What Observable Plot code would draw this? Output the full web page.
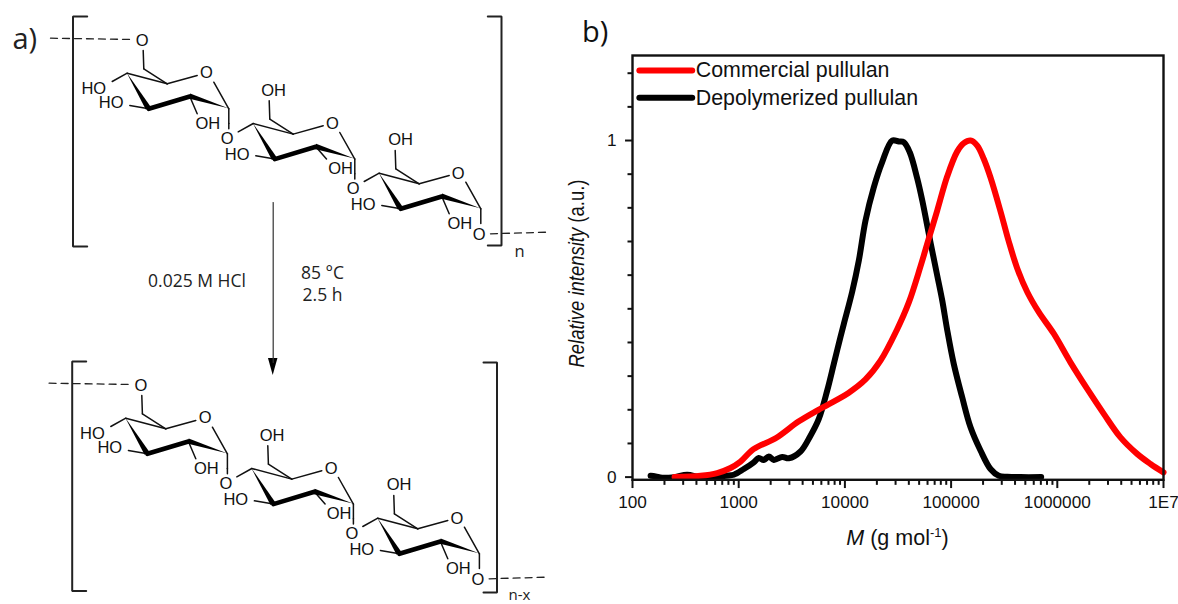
<!DOCTYPE html>
<html>
<head>
<meta charset="utf-8">
<script src="https://cdn.jsdelivr.net/npm/d3@7"></script>
<script src="https://cdn.jsdelivr.net/npm/@observablehq/plot@0.6"></script>
<style>
html,body{margin:0;padding:0;background:#fff;}
#page{position:relative;width:1178px;height:604px;overflow:hidden;}
#left{position:absolute;left:0;top:0;}
#right{position:absolute;left:555px;top:0;}
svg{display:block;overflow:visible;}
</style>
</head>
<body>
<div id="page"><div id="left"></div><div id="right"></div></div>
<script>
// ---------- Chart data ----------
const commercialM = [249,437,627,837,1040,1378,2269,3656,5636,10810,15630,21640,30600,40000,51500,61700,74000,91800,114000,131800,152400,176200,203200,235000,291700,349300,419800,521200,669900,926800,1330000,1914000,2742000,3936000,5649000,7551000,10000000];
const commercialI = [0,.004,.012,.027,.046,.083,.117,.165,.2,.25,.29,.346,.435,.519,.626,.709,.792,.893,.967,.992,1,.985,.945,.89,.79,.7,.62,.55,.49,.426,.341,.262,.188,.118,.069,.039,.014];
const depolyM = [148,165,190,249,327,437,627,751,899,1117,1387,1545,1722,1920,2143,2570,2965,3819,4742,5680,6810,7860,8770,9770,11720,13520,15630,18710,22440,27860,32200,35900,40800,48000,53500,64000,74000,82500,91800,106000,127200,152400,189200,235000,281300,337300,450000,705000];
const depolyI = [.004,.002,-.002,0,.007,-.001,-.001,.004,.007,.024,.044,.057,.051,.061,.051,.06,.056,.076,.123,.173,.257,.336,.397,.455,.551,.643,.762,.861,.936,1,.997,.995,.965,.887,.822,.697,.599,.525,.438,.336,.237,.148,.079,.024,.004,.001,0,0];
const majorX = [100,1000,10000,100000,1000000,10000000];
const minorX = [2,3,4,5,6,7,8,9].flatMap(k => [100,1000,10000,100000,1000000].map(d => k*d));
const majorY = [0,1];
const minorY = [.1,.2,.3,.4,.5,.6,.7,.8,.9,1.1,1.2];
const yBottom = -0.008;
const xTickEnd = {major:-0.034,minor:-0.0245};
const yTickEnd = {major:86,minor:90.7};
const legendNames = ["Commercial pullulan","Depolymerized pullulan"];
const legendColors = ["#ff0000","#000000"];
const legendLineM = [116,365];
const legendTextM = 394;
const legendY = [1.208,1.127];
const curveColorRed = "#ff0000";
const sans = "'Liberation Sans', Arial, sans-serif";
const humanist = "'Open Sans', 'Noto Sans', sans-serif";

// ---------- Structure diagram (diagram units = first repeat unit frame) ----------
const unitOffsets = [[0,0],[126,50.3],[252,100]];
const thinBonds = [
  [142.7,50,143.3,68.3],[143.3,68.3,166.7,83.3],[126.7,72.7,166.7,83.3],[166.7,83.3,196.7,75],
  [213.3,81.7,228.3,108.3],[126.7,72.7,111.7,81],[148.3,108.3,129.3,105],[228.3,108.3,228.3,123]
];
const c2Bonds = [[189.3,96,196.7,113.3],[315.3,146.3,326,158.5],[441.3,196,448.7,213.3]];
const linkExtra = [[228.3,123,228.3,128.3],[354.3,173.3,354.3,178.6]];
const wedges = [[126.7,72.7,148.3,108.3],[228.3,108.3,189.3,96]];
const boldBond = [[148.3,108.3],[189.3,96]];
const labelText = ["O","O","HO","HO","OH","O","OH","O","HO","OH","O","OH","O","HO","OH","O"];
const labelX = [141.7,206,93.3,110.7,207.3,226.7,273,332,236.7,340,352.7,400,457.7,362.7,459.3,478.7];
const labelY = [40,72.7,88.3,102.7,123.3,138.3,90.7,123.6,154.3,168.3,188.3,139.3,173.3,204,223.3,234];
const copies = [[0,0],[-1.4,345]];
const dashes = [[[50,37.7],[133,39]],[[490,233.3],[546.7,231.7]]];
const bracketsL = [[[86.7,16],[72.5,16],[72.5,246],[86.7,246]],[[85.7,361],[71.7,361],[71.7,590.5],[85.7,590.5]]];
const bracketsR = [[[487.3,16],[501,16],[501,245],[487.3,245]],[[483,362],[496.5,362],[496.5,592],[483,592]]];
const arrowShaft = [[272.7,202],[272.7,362]];
const arrowHead = [272.7,375,272.7,358];
const notes = ["0.025 M HCl","85 °C","2.5 h"];
const notesX = [196.5,322,322];
const notesY = [281,273,295];
const subs = ["n","n-x"];
const subsX = [519,519];
const subsY = [251.5,595];

const bonds = [], bolds = [], wedgeRows = [], texts = [];
let id = 0;
function addWedge(x1,y1,x2,y2,w){
  const L = Math.hypot(x2-x1,y2-y1), nx = -(y2-y1)/L*w/2, ny = (x2-x1)/L*w/2;
  wedgeRows.push({id,a:x1,b:y1,c:x1,d:y1},{id,a:x2-nx,b:y2-ny,c:x2+nx,d:y2+ny});
  id++;
}
copies.forEach(([cx,cy]) => {
  unitOffsets.forEach(([ux,uy],u) => {
    thinBonds.forEach(([a,b,c,d]) => bonds.push({id:id++,p:[a+cx+ux,b+cy+uy,c+cx+ux,d+cy+uy]}));
    wedges.forEach(([a,b,c,d]) => addWedge(a+cx+ux,b+cy+uy,c+cx+ux,d+cy+uy,5.5));
    bolds.push({id:id++,p:[boldBond[0][0]+cx+ux,boldBond[0][1]+cy+uy,boldBond[1][0]+cx+ux,boldBond[1][1]+cy+uy]});
    const q = c2Bonds[u];
    bonds.push({id:id++,p:[q[0]+cx,q[1]+cy,q[2]+cx,q[3]+cy]});
  });
  linkExtra.forEach(q => bonds.push({id:id++,p:[q[0]+cx,q[1]+cy,q[2]+cx,q[3]+cy]}));
  labelText.forEach((t,i) => texts.push({t,x:labelX[i]+cx,y:labelY[i]+cy}));
});
addWedge(...arrowHead,9.5);
const seg = rows => rows.flatMap(r => [{id:r.id,x:r.p[0],y:r.p[1]},{id:r.id,x:r.p[2],y:r.p[3]}]);
const poly = list => list.flatMap((pts,i) => pts.map(([x,y]) => ({id:i,x,y})));

const left = Plot.plot({
  width:555,height:604,margin:0,
  x:{domain:[0,555],range:[0,555],axis:null},
  y:{domain:[0,604],range:[0,604],axis:null},
  style:{background:"#fff",fontFamily:sans},
  marks:[
    Plot.line(seg(bonds),{x:"x",y:"y",z:"id",stroke:"#111",strokeWidth:1.5}),
    Plot.line(seg(bolds),{x:"x",y:"y",z:"id",stroke:"#000",strokeWidth:4.6}),
    Plot.area(wedgeRows,{x1:"a",y1:"b",x2:"c",y2:"d",z:"id",fill:"#000"}),
    Plot.line(poly(dashes),{x:"x",y:"y",z:"id",stroke:"#222",strokeWidth:1.3,strokeDasharray:"7 5"}),
    Plot.line(poly(dashes).map(d=>({...d,x:d.x-1.4,y:d.y+345,id:d.id+10})),{x:"x",y:"y",z:"id",stroke:"#222",strokeWidth:1.3,strokeDasharray:"7 5"}),
    Plot.line(poly(bracketsL),{x:"x",y:"y",z:"id",stroke:"#222",strokeWidth:2,strokeLinejoin:"miter"}),
    Plot.line(poly(bracketsR),{x:"x",y:"y",z:"id",stroke:"#222",strokeWidth:2,strokeLinejoin:"miter"}),
    Plot.line(arrowShaft,{stroke:"#333",strokeWidth:1.2}),
    Plot.text(texts,{x:"x",y:"y",text:"t",fontSize:16.5,fill:"#111",lineAnchor:"middle",textAnchor:"middle"}),
    Plot.text(notes,{x:(d,i)=>notesX[i],y:(d,i)=>notesY[i],text:d=>d,fontFamily:humanist,fontSize:17.5,fill:"#222",lineAnchor:"middle"}),
    Plot.text(subs,{x:(d,i)=>subsX[i],y:(d,i)=>subsY[i],text:d=>d,fontFamily:humanist,fontSize:(d,i)=>i?15:16.5,fill:"#222",lineAnchor:"middle"}),
    Plot.text(["a)"],{x:()=>12,y:()=>42,text:d=>d,fontFamily:humanist,fontSize:29,fill:"#222",textAnchor:"start",lineAnchor:"bottom",dy:6})
  ]
});
document.getElementById("left").appendChild(left);

// ---------- Chart ----------
const labelMark = (html,attrs) => () => {
  const t = d3.create("svg:text").attr("font-family",sans).attr("fill","#111").attr("text-anchor","start").html(html);
  Object.entries(attrs).forEach(([k,v]) => t.attr(k,v));
  return t.node();
};
const rows = (xs,ys) => xs.map((x,i)=>({x,y:ys[i]}));
const right = Plot.plot({
  width:623,height:604,
  marginLeft:77,marginRight:15,marginTop:55,marginBottom:124.7,
  x:{type:"log",domain:[100,1e7]},
  y:{domain:[yBottom,1.2526]},
  style:{background:"transparent",fontFamily:sans,fontSize:"17.2px",color:"#111"},
  marks:[
    Plot.axisX(majorX,{anchor:"bottom",tickSize:0,tickPadding:15.5,fontSize:17.2,label:null,tickFormat:d=>d===1e7?"1E7":String(d)}),
    Plot.axisY(majorY,{anchor:"left",tickSize:0,tickPadding:16,fontSize:17.2,label:null,tickFormat:d=>String(d)}),
    Plot.ruleX(majorX,{y1:yBottom,y2:xTickEnd.major,stroke:"#111",strokeWidth:2}),
    Plot.ruleX(minorX,{y1:yBottom,y2:xTickEnd.minor,stroke:"#111",strokeWidth:2}),
    Plot.ruleY(majorY,{x1:100,x2:yTickEnd.major,stroke:"#111",strokeWidth:2}),
    Plot.ruleY(minorY,{x1:100,x2:yTickEnd.minor,stroke:"#111",strokeWidth:2}),
    Plot.line(rows(depolyM,depolyI),{x:"x",y:"y",stroke:"#000",strokeWidth:6,curve:"catmull-rom",strokeLinecap:"round"}),
    Plot.line(rows(commercialM,commercialI),{x:"x",y:"y",stroke:curveColorRed,strokeWidth:6,curve:"catmull-rom",strokeLinecap:"round"}),
    Plot.frame({stroke:"#111",strokeWidth:2.4}),
    ...legendNames.map((n,i)=>Plot.line(legendLineM.map(x=>({x,y:legendY[i]})),{x:"x",y:"y",stroke:legendColors[i],strokeWidth:6,strokeLinecap:"round"})),
    Plot.text(legendNames,{x:()=>legendTextM,y:(d,i)=>legendY[i],text:d=>d,fontSize:21.4,fill:"#111",textAnchor:"start",lineAnchor:"middle"}),
    labelMark('<tspan font-style="italic">M</tspan> (g mol<tspan font-size="13" dy="-8">-1</tspan><tspan dy="8">)</tspan>',{x:342.5,y:545,"text-anchor":"middle","font-size":21.5}),
    labelMark('<tspan font-style="italic">Relative intensity</tspan> (a.u.)',{transform:"translate(29,273.5) rotate(-90) scale(1,1.15)","text-anchor":"middle","font-size":18.5}),
    labelMark('b)',{x:27,y:42,"font-size":29,"font-family":humanist})
  ]
});
document.getElementById("right").appendChild(right);
</script>
</body>
</html>
